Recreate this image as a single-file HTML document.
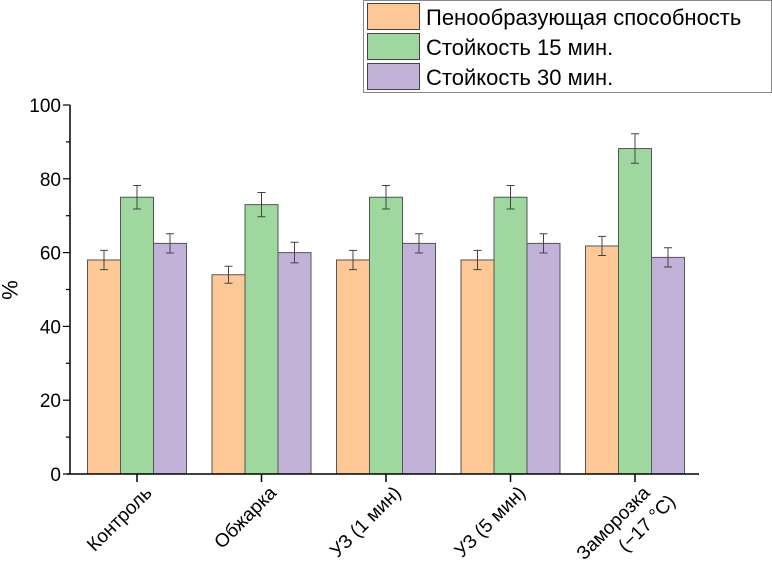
<!DOCTYPE html>
<html><head><meta charset="utf-8"><style>
body{margin:0;background:#fff}
svg{display:block;font-family:"Liberation Sans",sans-serif}
</style></head><body>
<svg id="c" width="772" height="577">
<g id="legend">
<rect x="363.5" y="0.5" width="408" height="92" fill="#fff" stroke="#888"/>
</g>
</svg>
<script>
const categories=["Контроль","Обжарка","УЗ (1 мин)","УЗ (5 мин)","Заморозка|(−17 °C)"];
const seriesNames=["Пенообразующая способность","Стойкость 15 мин.","Стойкость 30 мин."];
const foam=[58,54,58,58,61.8];
const st15=[75,73,75,75,88.2];
const st30=[62.5,60,62.5,62.5,58.7];
const errFoam=[2.6,2.3,2.6,2.6,2.6];
const errSt15=[3.2,3.3,3.2,3.2,4];
const errSt30=[2.6,2.8,2.6,2.6,2.6];
const yTicks=[0,20,40,60,80,100];
const colors=["#fdc896","#9fd89f","#c2b1d8"];
const NS="http://www.w3.org/2000/svg";
const svg=document.getElementById('c');
const X0=67,X1=699,Y0=474,Y100=105;
const y=v=>Y0+(Y100-Y0)*v/100;
const xc=i=>137+i*124.5;
const BW=33;
function mk(t,a,p){const e=document.createElementNS(NS,t);for(const k in a)e.setAttribute(k,a[k]);(p||svg).appendChild(e);return e;}
const series=[foam,st15,st30],errs=[errFoam,errSt15,errSt30];
let ax=mk('line',{x1:X0+3,y1:Y100,x2:X0+3,y2:Y0,stroke:'#000','stroke-width':1.5});


for(let v=0;v<=100;v+=10){const major=v%20===0;const t=mk('line',{x1:X0+3-(major?7:4),x2:X0+3,y1:y(v),y2:y(v),stroke:'#000','stroke-width':1.2});

}
yTicks.forEach(v=>{const t=mk('text',{x:X0-6,y:y(v)+7,'text-anchor':'end','font-size':19});t.textContent=v;

});
let yt=mk('text',{transform:'translate(2,290) rotate(90)','text-anchor':'middle','font-size':22});yt.textContent='%';


categories.forEach((c,i)=>{
 series.forEach((s,j)=>{
  const x=xc(i)+(j-1.5)*BW;
  const b=mk('rect',{x:x,y:y(s[i]),width:BW,height:Y0-y(s[i]),fill:colors[j],stroke:'#555','stroke-width':1});
  
  
  const cx=x+BW/2,e=errs[j][i];
  const g=mk('path',{d:`M${cx},${y(s[i]+e)}V${y(s[i]-e)}M${cx-4},${y(s[i]+e)}H${cx+4}M${cx-4},${y(s[i]-e)}H${cx+4}`,stroke:'#444','stroke-width':1,fill:'none'});
  
  
 });
 const tk=mk('line',{x1:xc(i),x2:xc(i),y1:Y0,y2:Y0+8,stroke:'#000','stroke-width':1.5});
 
 
 const lines=c.split('|');
 const t=mk('text',{transform:`translate(${xc(i)+16},${Y0+20}) rotate(-45)`,'text-anchor':'end','font-size':19});
 
 
 lines.forEach((l,k)=>{const ts=mk('tspan',{x:k*12,dy:k?24:0},t);ts.textContent=l;});
});
let xa=mk('line',{x1:X0,y1:Y0,x2:X1,y2:Y0,stroke:'#000','stroke-width':1.5});


const lg=document.getElementById('legend');
seriesNames.forEach((n,j)=>{
 const r=mk('rect',{x:367.5,y:3.5+j*30,width:52,height:26,fill:colors[j],stroke:'#444'},lg);
 
 
 const t=mk('text',{x:426,y:25+j*30,'font-size':22},lg);t.textContent=n;
 
 
});
</script>
</body></html>
